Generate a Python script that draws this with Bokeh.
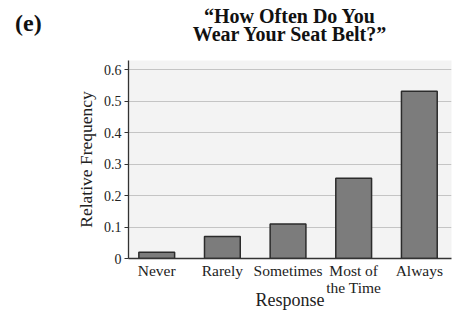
from bokeh.plotting import figure
from bokeh.models import FixedTicker, Range1d, Div
from bokeh.layouts import column
from bokeh.embed import file_html
from bokeh.resources import INLINE

categories = ["Never", "Rarely", "Sometimes", "Most of\nthe Time", "Always"]
rel_freq = [0.02, 0.07, 0.11, 0.255, 0.532]
y_ticks = [0, 0.1, 0.2, 0.3, 0.4, 0.5, 0.6]
title_lines = ["\u201cHow Often Do You", "Wear Your Seat Belt?\u201d"]
panel_label = "(e)"
x_label = "Response"
y_label = "Relative Frequency"

FONT = "Liberation Serif"
xs = list(range(len(categories)))

p = figure(frame_width=323, frame_height=198, output_backend="svg", toolbar_location=None,
           x_range=Range1d(-0.43, 4.49), y_range=Range1d(0, 0.63),
           min_border_left=128, min_border_right=3, min_border_top=0, min_border_bottom=0)
p.title = None

p.vbar(x=xs, top=rel_freq, width=0.545, bottom=0,
       fill_color="#7c7c7c", line_color="#2b2b2b", line_width=1.5)

p.background_fill_color = "#f3f3f3"
p.border_fill_color = "white"
p.outline_line_color = None

p.xgrid.grid_line_color = None
p.ygrid.grid_line_color = "#c4c4c4"
p.ygrid.grid_line_width = 1.2
p.ygrid.ticker = FixedTicker(ticks=y_ticks)

p.yaxis.ticker = FixedTicker(ticks=y_ticks)
p.yaxis.major_label_overrides = {0: "0"}
p.yaxis.minor_tick_line_color = None
p.yaxis.major_tick_in = 0
p.yaxis.major_tick_out = 4
p.yaxis.axis_line_color = "#333333"
p.yaxis.axis_line_width = 1.3
p.yaxis.major_tick_line_color = "#333333"
p.yaxis.major_label_text_font = FONT
p.yaxis.major_label_text_font_size = "14px"
p.yaxis.major_label_text_color = "#222222"
p.yaxis.major_label_standoff = 3
p.yaxis.axis_label = y_label
p.yaxis.axis_label_text_font = FONT
p.yaxis.axis_label_text_font_style = "normal"
p.yaxis.axis_label_text_font_size = "17.5px"
p.yaxis.axis_label_text_color = "#222222"
p.yaxis.axis_label_standoff = 5

p.xaxis.ticker = FixedTicker(ticks=xs)
p.xaxis.major_label_overrides = {i: c for i, c in enumerate(categories)}
p.xaxis.major_tick_line_color = None
p.xaxis.minor_tick_line_color = None
p.xaxis.axis_line_color = "#333333"
p.xaxis.axis_line_width = 1.3
p.xaxis.major_label_text_font = FONT
p.xaxis.major_label_text_font_size = "15.5px"
p.xaxis.major_label_text_line_height = 1.0
p.xaxis.major_label_text_color = "#222222"
p.xaxis.major_label_standoff = -3
p.xaxis.axis_label = x_label
p.xaxis.axis_label_text_font = FONT
p.xaxis.axis_label_text_font_style = "normal"
p.xaxis.axis_label_text_font_size = "18px"
p.xaxis.axis_label_text_color = "#222222"
p.xaxis.axis_label_standoff = -9

span = ("position:absolute;left:128px;width:323px;height:16px;text-align:center;font-size:20px;"
        "font-weight:bold;line-height:16px;white-space:nowrap;")
head_html = (
    '<div style="position:relative;width:454px;height:60px;'
    "font-family:'Liberation Serif',serif;color:#111111;\">"
    '<span style="position:absolute;left:15px;top:11px;font-size:24px;'
    'font-weight:bold;line-height:24px;white-space:nowrap;">' + panel_label + '</span>'
    '<div style="' + span + 'top:8px;">' + title_lines[0] + '</div>'
    '<div style="' + span + 'top:25.5px;">' + title_lines[1] + '</div>'
    '</div>'
)
head = Div(text=head_html, width=454, height=60, margin=0)

layout = column(head, p, spacing=0)

open("out.html", "w").write(file_html(layout, INLINE))
